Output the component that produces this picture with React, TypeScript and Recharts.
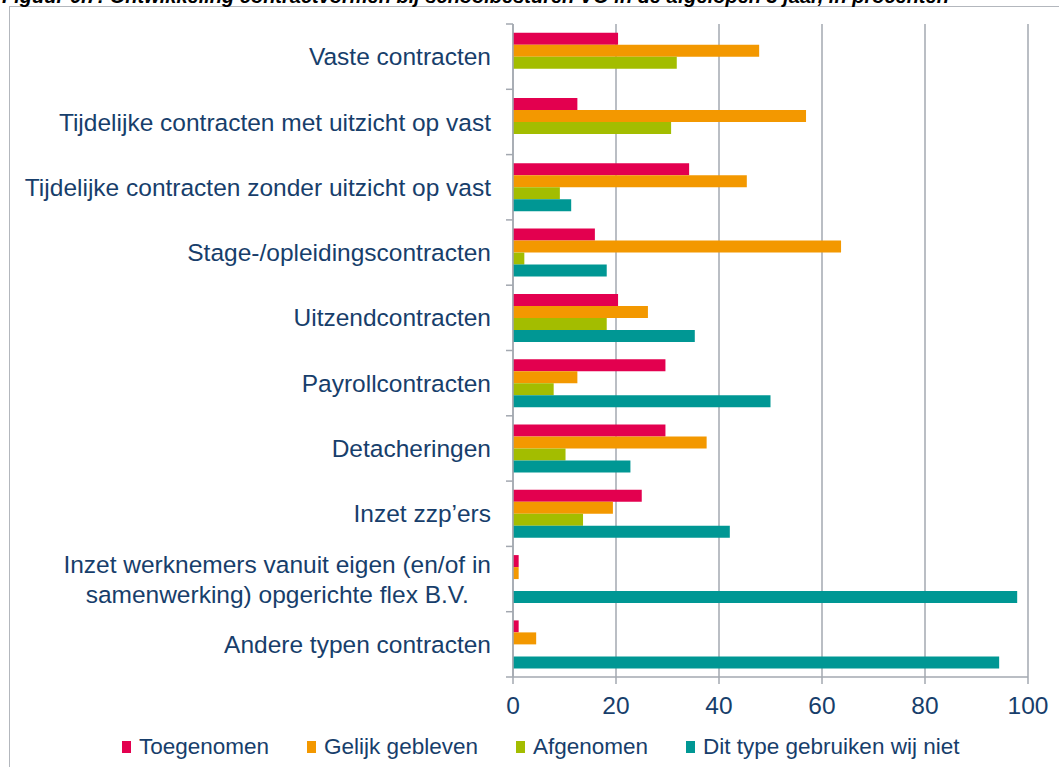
import React from "react";
import { BarChart, Bar, XAxis, YAxis, CartesianGrid } from "recharts";

const categories = [
  "Vaste contracten",
  "Tijdelijke contracten met uitzicht op vast",
  "Tijdelijke contracten zonder uitzicht op vast",
  "Stage-/opleidingscontracten",
  "Uitzendcontracten",
  "Payrollcontracten",
  "Detacheringen",
  "Inzet zzp’ers",
  "Inzet werknemers vanuit eigen (en/of in\nsamenwerking) opgerichte flex B.V.",
  "Andere typen contracten",
];
const toegenomen = [20.4, 12.5, 34.2, 15.9, 20.4, 29.6, 29.6, 25.0, 1.1, 1.1];
const gelijkGebleven = [47.8, 56.9, 45.4, 63.7, 26.2, 12.5, 37.6, 19.4, 1.1, 4.5];
const afgenomen = [31.8, 30.7, 9.1, 2.2, 18.2, 7.9, 10.2, 13.6, 0, 0];
const nietGebruikt = [0, 0, 11.3, 18.2, 35.3, 50.0, 22.8, 42.1, 97.9, 94.4];
const xTicks = [0, 20, 40, 60, 80, 100];

const seriesNames = ["Toegenomen", "Gelijk gebleven", "Afgenomen", "Dit type gebruiken wij niet"];
const seriesKeys = ["toegenomen", "gelijk", "afgenomen", "niet"];
const seriesColors = ["#E3004F", "#F39800", "#A3BD00", "#009794"];

const title =
  "Figuur 6.7: Ontwikkeling contractvormen bij schoolbesturen VO in de afgelopen 3 jaar, in procenten";

const data = categories.map((c, i) => ({
  name: c,
  toegenomen: toegenomen[i],
  gelijk: gelijkGebleven[i],
  afgenomen: afgenomen[i],
  niet: nietGebruikt[i],
}));

const FONT = "'Liberation Sans', Arial, sans-serif";
const NAVY = "#173E6B";
const AXIS = "#A3A8B0";
const LABEL_SIZE = 24.5;

function measure(text: string, size: number): number {
  try {
    const c = document.createElement("canvas").getContext("2d");
    if (c) {
      c.font = `${size}px ${FONT}`;
      return c.measureText(text).width;
    }
  } catch (e) {}
  return text.length * size * 0.5;
}

const YTick = (props: any) => {
  const { x, y, payload, index } = props;
  const half = payload && payload.offset ? payload.offset : 32.65;
  const axisX = x + 22;
  const lines = String(payload.value).split("\n");
  let label;
  if (lines.length > 1) {
    const w = measure(lines[0], LABEL_SIZE);
    const cx = x - w / 2;
    label = (
      <text fill={NAVY} fontSize={LABEL_SIZE} fontFamily={FONT} textAnchor="middle">
        <tspan x={cx} y={y - 5.8}>{lines[0]}</tspan>
        <tspan x={cx} y={y + 24.2}>{lines[1]}</tspan>
      </text>
    );
  } else {
    label = (
      <text x={x} y={y + 8.6} fill={NAVY} fontSize={LABEL_SIZE} fontFamily={FONT} textAnchor="end">
        {lines[0]}
      </text>
    );
  }
  return (
    <g>
      <line x1={axisX - 7} x2={axisX} y1={y - half} y2={y - half} stroke={AXIS} strokeWidth={1.5} />
      {index === categories.length - 1 && (
        <line x1={axisX - 7} x2={axisX} y1={y + half} y2={y + half} stroke={AXIS} strokeWidth={1.5} />
      )}
      {label}
    </g>
  );
};

export default function App() {
  return (
    <div
      style={{
        position: "absolute",
        left: 0,
        top: 0,
        width: 1059,
        height: 767,
        overflow: "hidden",
        background: "#fff",
        fontFamily: FONT,
      }}
    >
      <div
        style={{
          position: "absolute",
          left: 9,
          top: 6,
          width: 1200,
          height: 1000,
          border: "1.5px solid #B3B7BD",
        }}
      />
      <div
        style={{
          position: "absolute",
          left: 2,
          top: -15,
          fontSize: 20,
          fontWeight: "bold",
          fontStyle: "italic",
          lineHeight: "23px",
          whiteSpace: "nowrap",
          color: "#000",
        }}
      >
        {title}
      </div>
      <div style={{ position: "absolute", left: 0, top: 0 }}>
        <BarChart
          width={1059}
          height={767}
          data={data}
          layout="vertical"
          margin={{ top: 24, right: 31, bottom: 0, left: 0 }}
          barCategoryGap="13.3%"
          barGap={0}
        >
          <CartesianGrid horizontal={false} vertical={true} stroke={AXIS} strokeWidth={1.5} />
          <XAxis
            type="number"
            domain={[0, 100]}
            ticks={xTicks}
            height={90}
            stroke={AXIS}
            strokeWidth={1.5}
            tickSize={7}
            tickMargin={13}
            interval={0}
            tick={{ fill: NAVY, fontSize: 24.5, fontFamily: FONT }}
          />
          <YAxis
            type="category"
            dataKey="name"
            width={513}
            stroke={AXIS}
            strokeWidth={1.5}
            tickLine={false}
            tickSize={0}
            tickMargin={22}
            interval={0}
            tick={<YTick />}
          />
          {seriesKeys.map((k, i) => (
            <Bar key={k} dataKey={k} name={seriesNames[i]} fill={seriesColors[i]} isAnimationActive={false} />
          ))}
        </BarChart>
      </div>
      <div
        style={{
          position: "absolute",
          left: 122,
          top: 733,
          display: "flex",
          alignItems: "center",
          fontSize: 22.5,
          color: NAVY,
          lineHeight: "28px",
          whiteSpace: "nowrap",
        }}
      >
        {seriesNames.map((n, i) => (
          <div key={n} style={{ display: "flex", alignItems: "center", marginRight: i < 3 ? 38 : 0 }}>
            <span style={{ display: "inline-block", width: 9, height: 12, background: seriesColors[i], marginRight: 8 }} />
            <span>{n}</span>
          </div>
        ))}
      </div>
    </div>
  );
}
